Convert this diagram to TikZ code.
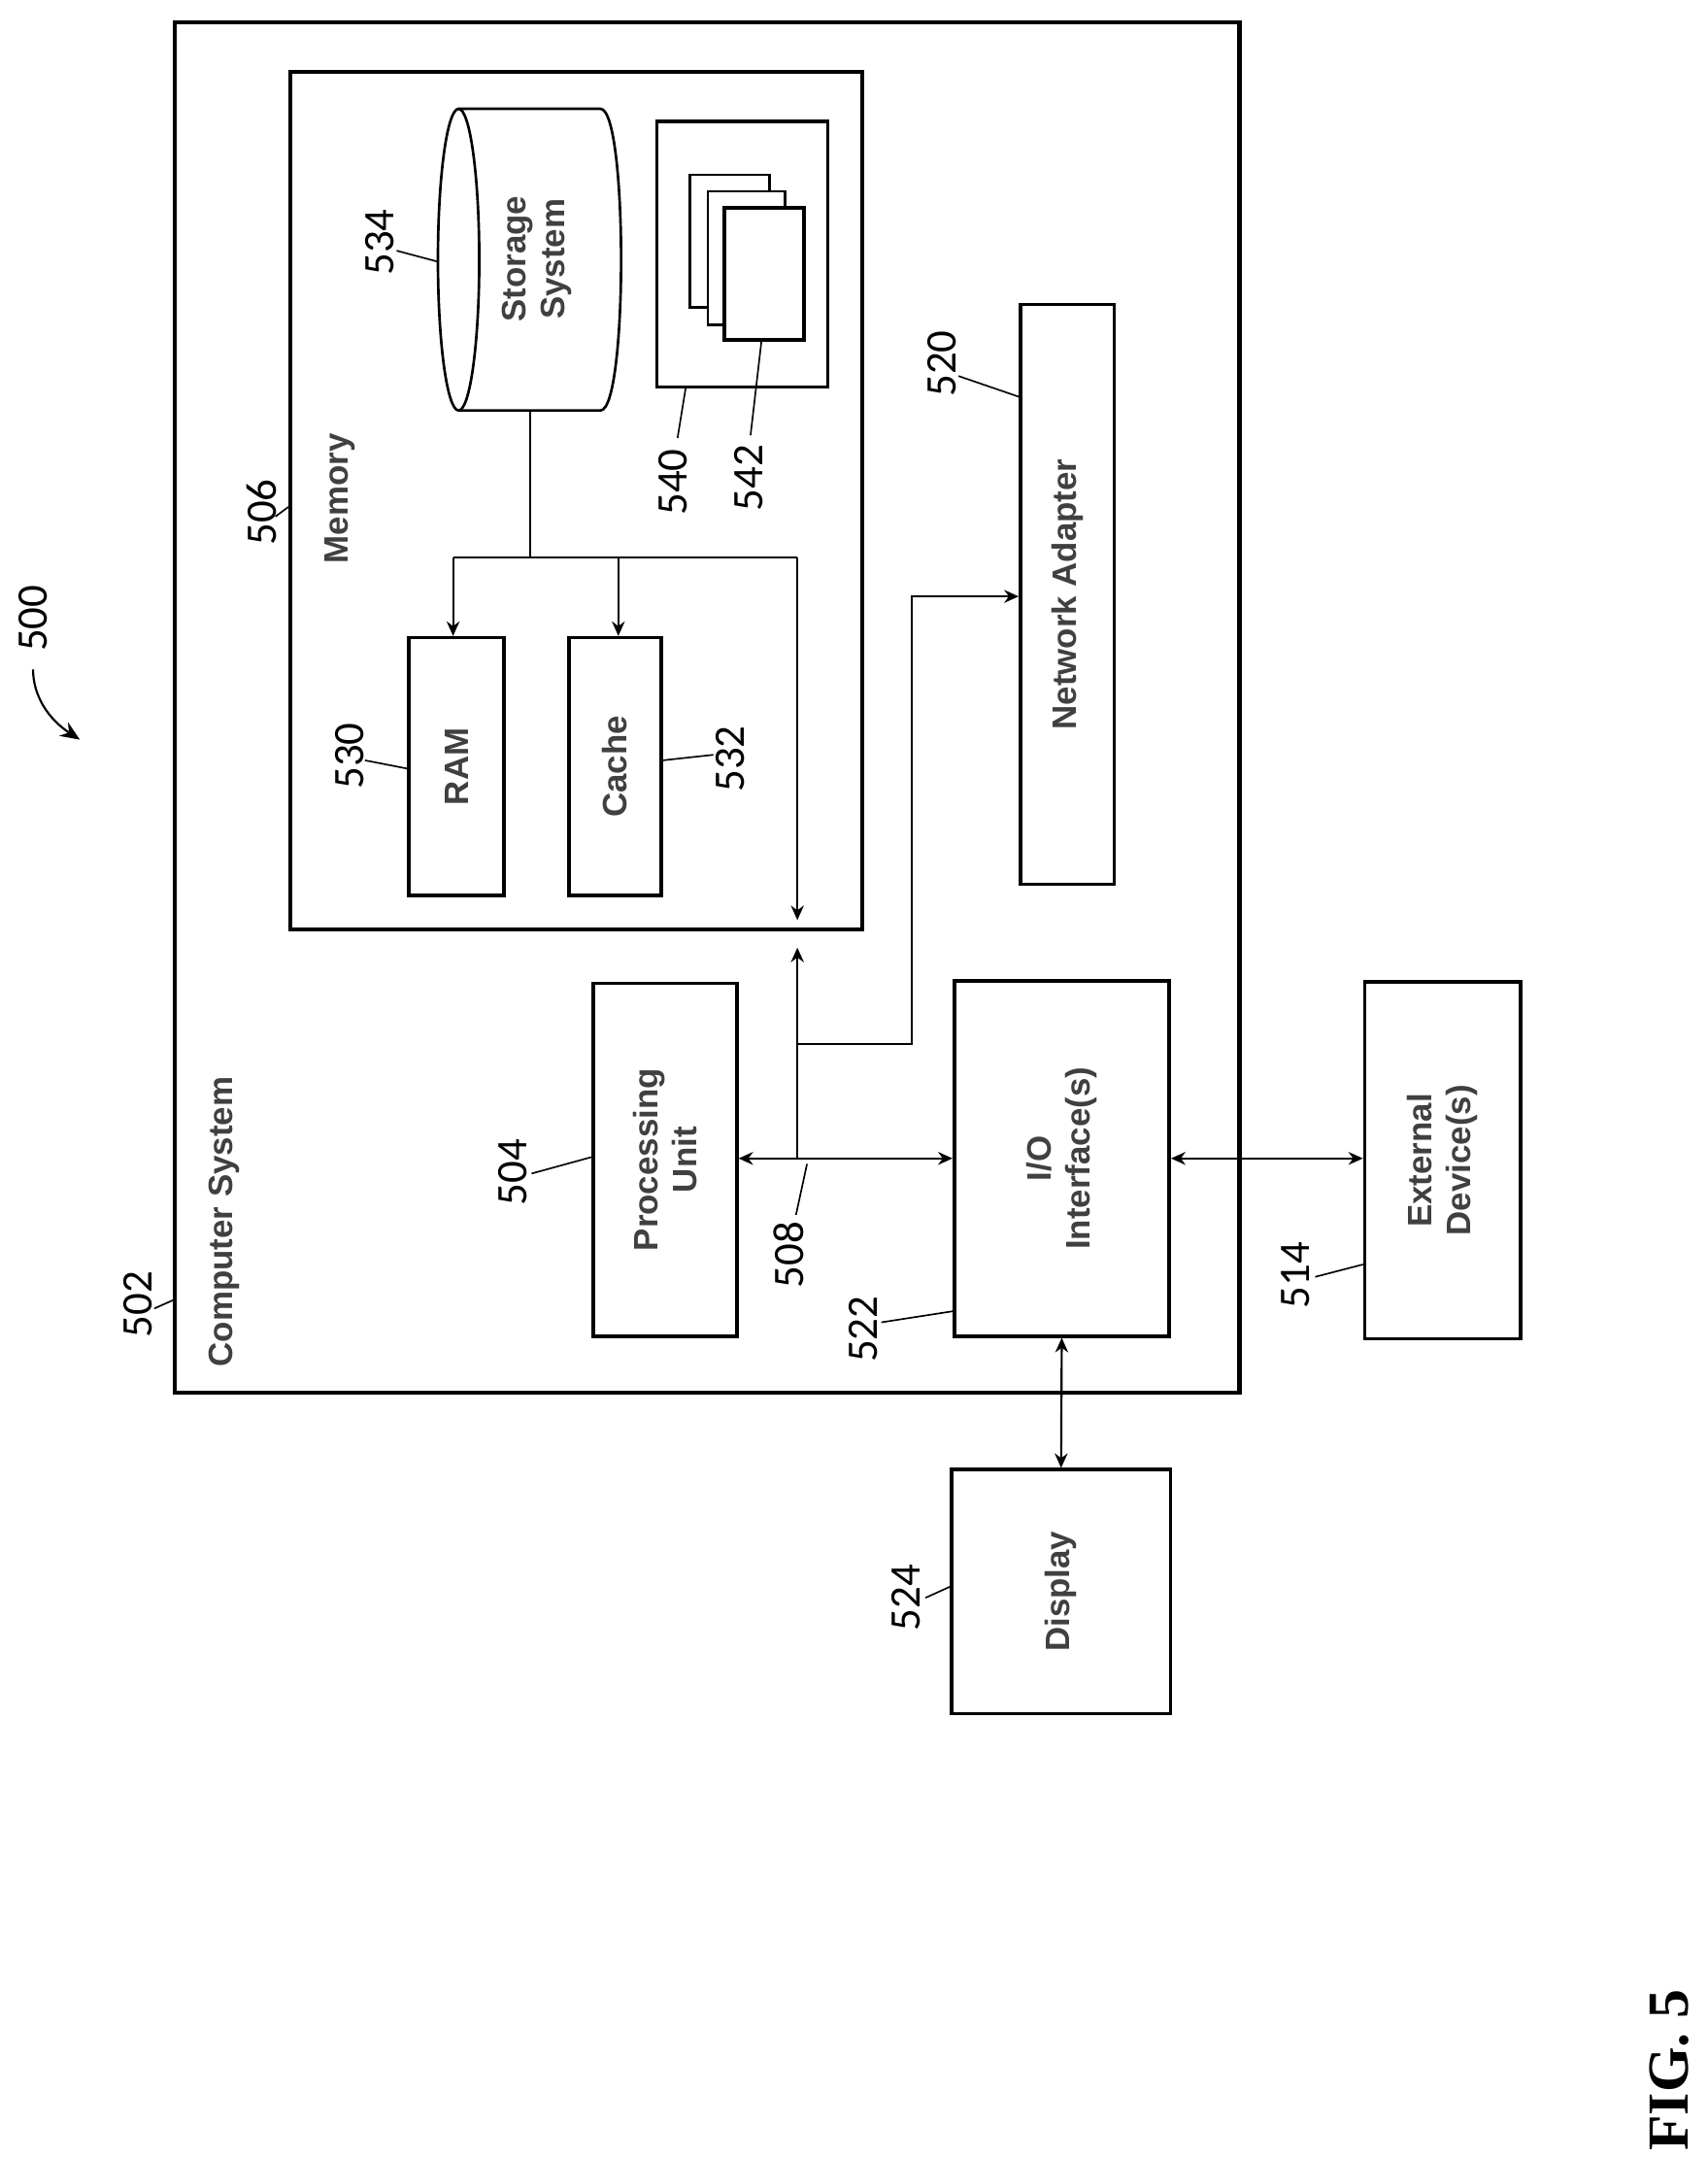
\documentclass[tikz,border=0pt]{standalone}
\usepackage{fontspec}
\setmainfont{Liberation Serif}
\setsansfont{Liberation Sans}
\newfontfamily\numfont{Carlito}
\usetikzlibrary{fit,arrows.meta}
\begin{document}
\begin{tikzpicture}[x=0.03cm,y=-0.03cm,
  box/.style={draw,line width=2.2pt,inner sep=0pt},
  thin box/.style={draw,line width=1.6pt,inner sep=0pt},
  txt/.style={rotate=90,font=\sffamily\bfseries\fontsize{21}{24}\selectfont,align=center,text=black!75},
  num/.style={rotate=90,font=\numfont\fontsize{27}{30}\selectfont},
  conn/.style={line width=1.3pt},
  arr/.style={conn,-{Stealth[length=9pt,width=8pt]}},
  darr/.style={conn,{Stealth[length=9pt,width=8pt]}-{Stealth[length=9pt,width=8pt]}},
  lead/.style={line width=1pt}]
\useasboundingbox (0,0) rectangle (1240,1566);
% outer computer system
\path (127,16) coordinate (cs1) (900,1011) coordinate (cs2);
\node[box,line width=2.6pt,fit=(cs1)(cs2)] (cs) {};
% memory
\path (211,52) coordinate (m1) (626,675) coordinate (m2);
\node[box,line width=2.6pt,fit=(m1)(m2)] (mem) {};
% storage cylinder
\coordinate (stt) at (385,79);
\coordinate (stb) at (385,298);
\draw[line width=1.6pt] (333,188.5) ellipse [x radius=15, y radius=109.5];
\draw[line width=1.6pt] (333,79) -- (436,79) .. controls (456,79) and (456,298) .. (436,298) -- (333,298);
\node[txt] (st) at (390,188) {Storage\\System};
% box 540 and cards
\path (477,88) coordinate (p1) (601,281) coordinate (p2);
\node[box,fit=(p1)(p2)] (prog) {};
\path (501,127) coordinate (c11) (559,223) coordinate (c12);
\node[thin box,fill=white,fit=(c11)(c12)] (card1) {};
\path (514,139) coordinate (c21) (570,236) coordinate (c22);
\node[thin box,fill=white,fit=(c21)(c22)] (card2) {};
\path (526,151) coordinate (c31) (584,247) coordinate (c32);
\node[box,fill=white,fit=(c31)(c32)] (card3) {};
% RAM, cache
\path (297,463) coordinate (r1) (366,650) coordinate (r2);
\node[box,fit=(r1)(r2)] (ram) {};
\node[txt] at (ram) {RAM};
\path (413,463) coordinate (k1) (480,650) coordinate (k2);
\node[box,fit=(k1)(k2)] (cache) {};
\node[txt] at (cache) {Cache};
% network adapter
\path (741,221) coordinate (n1) (809,642) coordinate (n2);
\node[box,fit=(n1)(n2)] (net) {};
\node[txt] at (net) {Network Adapter};
% processing unit
\path (431,714) coordinate (q1) (535,970) coordinate (q2);
\node[box,fit=(q1)(q2)] (proc) {};
\node[txt] at (proc) {Processing\\Unit};
% IO
\path (693,712) coordinate (i1) (849,970) coordinate (i2);
\node[box,fit=(i1)(i2)] (io) {};
\node[txt] at (io) {I/O\\Interface(s)};
% external
\path (991,713) coordinate (e1) (1104,972) coordinate (e2);
\node[box,fit=(e1)(e2)] (ext) {};
\node[txt] at (ext) {External\\Device(s)};
% display
\path (691,1067) coordinate (d1) (850,1244) coordinate (d2);
\node[box,fit=(d1)(d2)] (disp) {};
\node[txt] at (disp) {Display};
% labels
\node[txt] at (163,887) {Computer System};
\node[txt] (memlbl) at (247,362) {Memory};
% connectors
\coordinate (b1) at (385,405);
\coordinate (bl) at (329,405);
\coordinate (bk) at (449,405);
\coordinate (br) at (579,405);
\coordinate (jm) at (579,668);
\coordinate (jm2) at (579,688);
\coordinate (jb) at (579,841);
\coordinate (jn) at (579,758);
\coordinate (n3) at (662,758);
\coordinate (n4) at (662,433);
\draw[conn] (stb) -- (b1);
\draw[conn] (bl) -- (br);
\draw[arr] (bl) -- (bl |- ram.north);
\draw[arr] (bk) -- (bk |- cache.north);
\draw[arr] (br) -- (jm);
\draw[arr] (jb) -- (jm2);
\draw[darr] (proc.east |- jb) -- (io.west |- jb);
\draw[arr] (jn) -- (n3) -- (n4) -- (n4 -| net.west);
\draw[darr] (io.east |- jb) -- (ext.west |- jb);
\draw[darr] (io.south) -- (disp.north);
% reference numerals
\node[num] (l500) at (24,449) {500};
\draw[line width=1.3pt,-{Stealth[length=12pt,width=10pt]}] (24,486) .. controls (24,505) and (35,522) .. (58,537);
\node[num] (l502) at (100,947) {502};
\draw[lead] (112,950) -- (cs.west |- 0,944);
\node[num] (l506) at (190,372) {506};
\draw[lead] (200,375) -- (mem.west |- 0,368);
\node[num] (l534) at (276,176) {534};
\draw[lead] (288,182) -- (318,190);
\node[num] (l530) at (254,549) {530};
\draw[lead] (265,552) -- (ram.west |- 0,558);
\node[num] (l532) at (530,551) {532};
\draw[lead] (518,548) -- (cache.east |- 0,552);
\node[num] (l540) at (489,350) {540};
\draw[lead] (492,318) -- (498,281);
\node[num] (l542) at (544,347) {542};
\draw[lead] (545,316) -- (553,247);
\node[num] (l520) at (684,264) {520};
\draw[lead] (696,273) -- (net.west |- 0,288);
\node[num] (l504) at (372,851) {504};
\draw[lead] (386,852) -- (proc.west |- 0,840);
\node[num] (l508) at (573,911) {508};
\draw[lead] (578,882) -- (586,845);
\node[num] (l522) at (627,965) {522};
\draw[lead] (640,960) -- (io.west |- 0,952);
\node[num] (l514) at (941,926) {514};
\draw[lead] (955,927) -- (ext.west |- 0,918);
\node[num] (l524) at (658,1160) {524};
\draw[lead] (672,1160) -- (disp.west |- 0,1152);
\node[rotate=90,font=\bfseries\fontsize{36}{40}\selectfont] at (1212,1503) {FIG. 5};
\end{tikzpicture}
\end{document}
